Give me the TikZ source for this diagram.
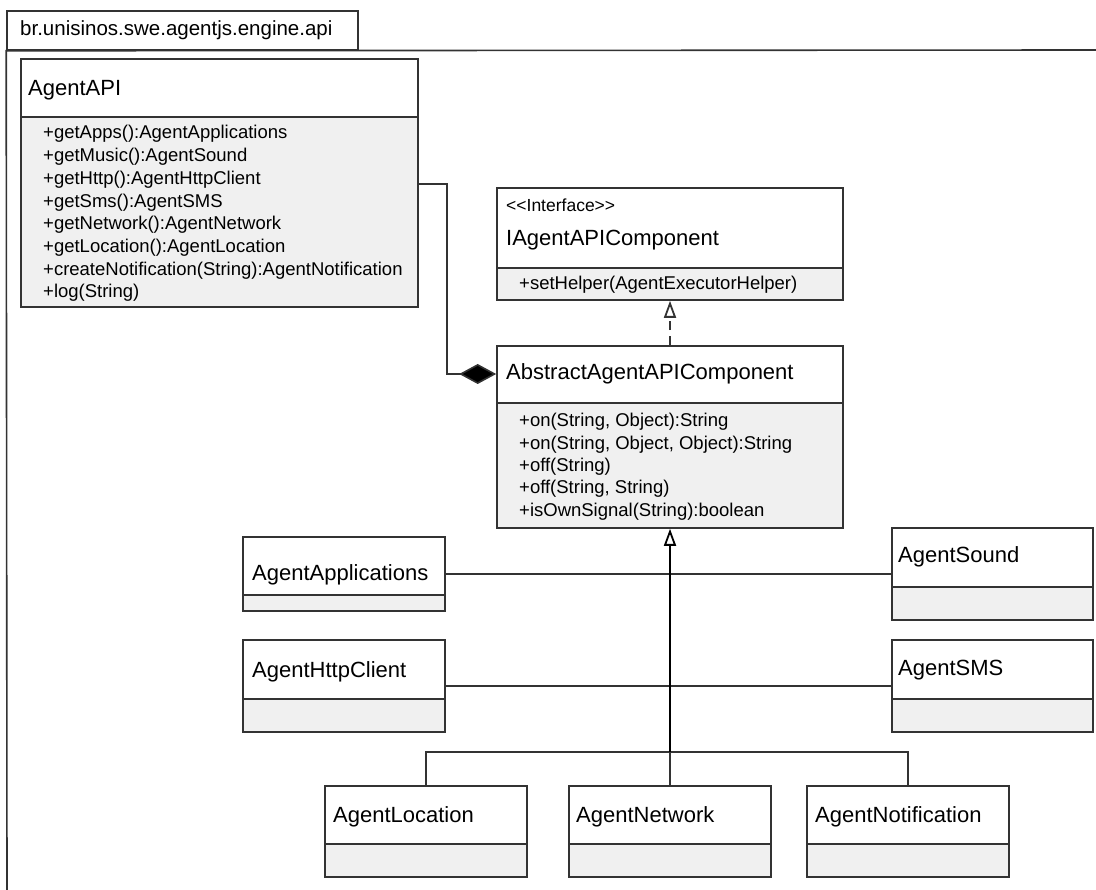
\documentclass[tikz,border=0pt]{standalone}
\usepackage{fontspec}
\setmainfont{Liberation Sans}
\usetikzlibrary{arrows.meta,fit}

\definecolor{umlline}{HTML}{333333}
\definecolor{umlfill}{HTML}{F0F0F0}

\tikzset{
  classbox/.style={draw=umlline, line width=1.6pt, inner sep=0pt},
  divider/.style={draw=umlline, line width=1.4pt},
  cname/.style={anchor=base west, inner sep=0pt, font=\fontsize{22}{26}\selectfont},
  member/.style={anchor=base west, inner sep=0pt, font=\fontsize{18.5}{22}\selectfont},
  stereo/.style={anchor=base west, inner sep=0pt, font=\fontsize{17.5}{21}\selectfont},
  pkgname/.style={anchor=base west, inner sep=0pt, font=\fontsize{20.5}{24}\selectfont},
  conn/.style={draw=umlline, line width=1.6pt},
  realize/.style={conn, dash pattern=on 9pt off 6pt, -{Triangle[open, length=17pt, width=12pt, line width=1.8pt]}},
  inherit/.style={draw=black, line width=2.8pt, -{Triangle[open, length=17pt, width=12pt, line width=1.8pt]}},
  compose/.style={conn, {Diamond[length=37pt, width=20pt, fill=black]}-},
}

% class frame: name, left, top, right, bottom, divider y
\newcommand{\umlclass}[6]{%
  \fill[umlfill] (#2,#6) rectangle (#4,#5);
  \draw[divider] (#2,#6) -- (#4,#6);
  \node[classbox, fit={(#2,#3) (#4,#5)}] (#1) {};
}

\begin{document}
\begin{tikzpicture}[x=1pt, y=-1pt]
\useasboundingbox (0,0) rectangle (1096,890);

% package frame
\node[draw=umlline, line width=1.6pt, inner sep=0pt, fit={(7,11) (358,50)}] (pkg) {};
\node[pkgname] (pkg-name) at (20,36) {br.unisinos.swe.agentjs.engine.api};
\draw[draw=umlline, line width=1.6pt] (7,890) -- (pkg.south west) -- (1096,50);

% AgentAPI
\umlclass{api}{21}{59}{418}{307}{117}
\node[cname] (api-title) at (28,96) {AgentAPI};
\foreach \t [count=\i] in {+getApps():AgentApplications, +getMusic():AgentSound,
    +getHttp():AgentHttpClient, +getSms():AgentSMS, +getNetwork():AgentNetwork,
    +getLocation():AgentLocation, +createNotification(String):AgentNotification,
    +log(String)}
  \node[member] (api-m\i) at (43,{139+(\i-1)*22.7}) {\t};

% IAgentAPIComponent
\umlclass{iface}{497}{188}{843}{300}{268}
\node[stereo] (iface-stereo) at (506,212) {<\kern0pt<Interface>\kern0pt>};
\node[cname] (iface-title) at (506,246) {IAgentAPIComponent};
\node[member] (iface-m1) at (519,290) {+setHelper(AgentExecutorHelper)};

% AbstractAgentAPIComponent
\umlclass{abs}{497}{346}{843}{528}{403}
\node[cname] (abs-title) at (506,380) {AbstractAgentAPIComponent};
\foreach \t [count=\i] in {{+on(String, Object):String}, {+on(String, Object, Object):String},
    +off(String), {+off(String, String)}, +isOwnSignal(String):boolean}
  \node[member] (abs-m\i) at (519,{427+(\i-1)*22.3}) {\t};

% concrete components
\umlclass{apps}{243}{537}{445}{611}{595}
\node[cname] (apps-title) at (252,580) {AgentApplications};
\umlclass{http}{243}{640}{445}{732}{699}
\node[cname] (http-title) at (252,677) {AgentHttpClient};
\umlclass{sound}{892}{528}{1093}{620}{587}
\node[cname] (sound-title) at (898,563) {AgentSound};
\umlclass{sms}{892}{640}{1093}{732}{699}
\node[cname] (sms-title) at (898,675) {AgentSMS};
\umlclass{loc}{325}{786}{527}{877}{844}
\node[cname] (loc-title) at (333,822) {AgentLocation};
\umlclass{net}{569}{786}{771}{877}{844}
\node[cname] (net-title) at (576,822) {AgentNetwork};
\umlclass{notif}{807}{786}{1009}{877}{844}
\node[cname] (notif-title) at (815,822) {AgentNotification};

% connectors
\coordinate (bend) at (447,184);
\coordinate (hub) at (670,752);
\draw[compose] (abs.west |- 0,374) -| (bend) -- (api.east |- bend);
\draw[realize] (abs.north) -- (iface.south);
\draw[conn] (apps.east) -- (sound.west |- apps.east);
\draw[conn] (http.east) -- (sms.west |- http.east);
\draw[conn] (loc.north) |- (hub) -| (notif.north);
\draw[conn] (net.north) -- (hub);
\draw[inherit] (hub) -- (abs.south);
\end{tikzpicture}
\end{document}
